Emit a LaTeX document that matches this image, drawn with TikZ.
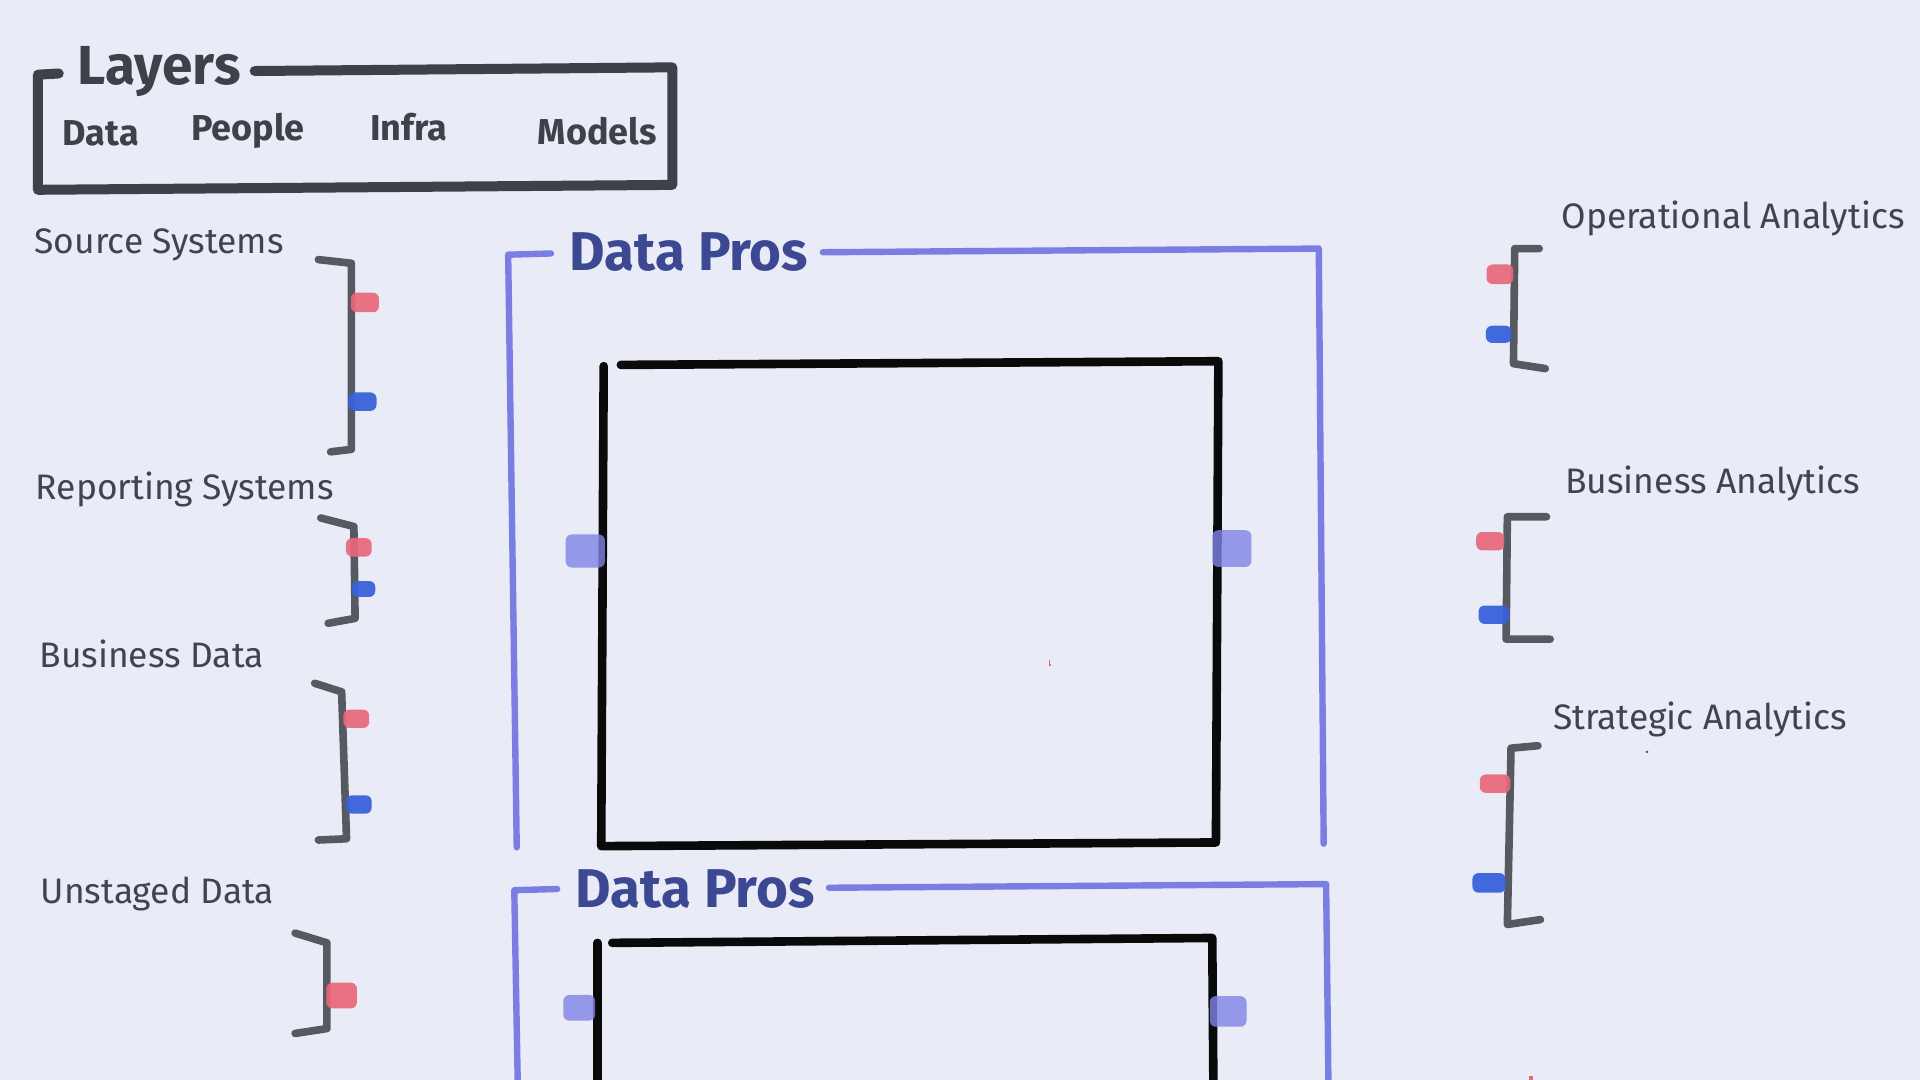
\documentclass[tikz,border=0pt]{standalone}
\usepackage{fontspec}
\setmainfont{Fira Sans}
\usepackage{xcolor}
\usepackage{tikz}
\usetikzlibrary{positioning,calc}

\definecolor{bgcol}{RGB}{233,236,246}
\definecolor{layergray}{RGB}{62,65,74}
\definecolor{brackgray}{RGB}{86,89,96}
\definecolor{textgray}{RGB}{64,67,80}
\definecolor{tabred}{RGB}{232,104,122}
\definecolor{tabblue}{RGB}{56,98,219}
\definecolor{proline}{RGB}{122,126,227}
\definecolor{protab}{RGB}{128,132,230}
\definecolor{protext}{RGB}{61,72,147}

\begin{document}
\begin{tikzpicture}[x=0.6122pt, y=-0.6122pt,
    layerbox/.style={draw=layergray, line width=5pt, line cap=round, line join=round},
    brack/.style={draw=brackgray, line width=3.8pt, line cap=round, line join=round},
    prosline/.style={draw=proline, line width=3.2pt, line cap=round, line join=round},
    blackbox/.style={draw=black!96, line width=4.3pt, line cap=round, line join=round},
    redtab/.style={fill=tabred, fill opacity=0.92, rounded corners=3pt},
    bluetab/.style={fill=tabblue, fill opacity=0.95, rounded corners=3pt},
    purpletab/.style={fill=protab, fill opacity=0.8, rounded corners=3pt},
    label/.style={inner sep=0pt, anchor=base west, text=textgray, font=\fontsize{17.7}{20}\selectfont},
    layeritem/.style={inner sep=0pt, anchor=base west, text=layergray, font=\bfseries\fontsize{18}{20}\selectfont},
    prostitle/.style={inner sep=0pt, anchor=base west, text=protext, font=\bfseries\fontsize{27.3}{30}\selectfont}]

    % background
    \fill[bgcol] (0,0) rectangle (1568,882);
    \useasboundingbox (0,0) rectangle (1568,882);

    % Layers
    \node[inner sep=0pt, anchor=base west, text=layergray, font=\bfseries\fontsize{27.5}{30}\selectfont] (layers) at (63,69) {Layers};
    \draw[layerbox] (48,60) -- (31,61) -- (31,155) -- (549,151) -- (549,55) -- (208,58);
    \node[layeritem] (ldata) at (51,119) {Data};
    \node[layeritem] (lpeople) at (156,115) {People};
    \node[layeritem] (linfra) at (302,115) {Infra};
    \node[layeritem] (lmodels) at (439,118) {Models};

    % Sources
    \node[label] (srcsys) at (28,207) {Source Systems};
    \node[label] (repsys) at (29,408) {Reporting Systems};
    \node[label] (busdata) at (32,545) {Business Data};
    \node[label] (unstaged) at (33,738) {Unstaged Data};

    \draw[brack] (260,212) -- (287,215) -- (287,367) -- (270,369);
    \draw[brack] (262,423) -- (289,430) -- (290,505) -- (268,509);
    \draw[brack] (257,558) -- (279,565) -- (283,685) -- (260,686);
    \draw[brack] (241,762) -- (267,770) -- (267,840) -- (241,844);

    % Analytics
    \node[label] (opana) at (1275,187) {Operational Analytics};
    \node[label] (busana) at (1278,403) {Business Analytics};
    \node[label] (strana) at (1268,596) {Strategic Analytics};

    \draw[brack] (1257,203) -- (1237,203) -- (1236,297) -- (1262,301);
    \draw[brack] (1263,422) -- (1231,422) -- (1230,522) -- (1266,522);
    \draw[brack] (1256,609) -- (1234,611) -- (1231,755) -- (1258,751);

    % red and blue tabs
    \foreach \cx/\cy/\w/\h in {298/247/23/16, 293/447/21/15, 291/587/21/15, 279/813/25/21,
                               1225/224/22/16, 1217/442/23/15, 1221/640/25/15}
        \fill[redtab] (\cx-\w/2,\cy-\h/2) rectangle ++(\w,\h);
    \foreach \cx/\cy/\w/\h in {296/328/23/15, 297/481/19/13, 293/657/21/15,
                               1224/273/21/14, 1220/502/25/15, 1216/721/27/16}
        \fill[bluetab] (\cx-\w/2,\cy-\h/2) rectangle ++(\w,\h);

    % Data Pros (top)
    \node[prostitle] (pros1) at (465,221) {Data Pros};
    \draw[prosline] (450,207) -- (415,208) -- (422,692);
    \draw[prosline] (672,206) -- (1077,203) -- (1081,689);
    \draw[blackbox] (507,298) -- (995,295) -- (993,688) -- (491,691) -- (493,299);

    % Data Pros (bottom)
    \node[prostitle] (pros2) at (470,741) {Data Pros};
    \draw[prosline] (455,726) -- (420,727) -- (423,895);
    \draw[prosline] (677,725) -- (1083,722) -- (1085,895);
    \draw[blackbox] (500,770) -- (990,766) -- (991,895);
    \draw[blackbox] (488,770) -- (488,895);

    % purple tabs
    \foreach \cx/\cy/\w/\h in {478/450/32/27, 1006/448/32/30, 473/823/26/21, 1003/826/30/25}
        \fill[purpletab] (\cx-\w/2,\cy-\h/2) rectangle ++(\w,\h);

    % stray marks
    \draw[tabred, line width=0.6pt] (857,539) -- (857,543) -- (858,543);
    \fill[tabblue] (1345,614) circle (1.2);
    \fill[tabred] (1249,879) rectangle (1252,882);
\end{tikzpicture}
\end{document}
